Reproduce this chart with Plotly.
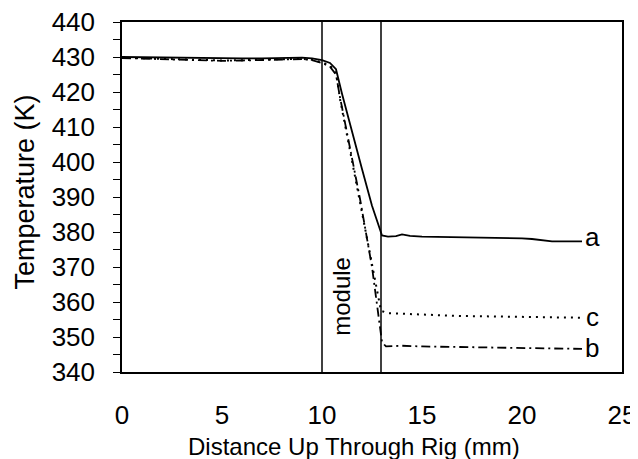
import plotly.graph_objects as go

# ---- data ----
a_x = [0, 1, 2, 3, 4, 5, 6, 7, 8, 9, 9.5, 10, 10.4, 10.7, 11.0, 11.5, 12.0, 12.5, 12.8, 13.0,
       13.3, 13.7, 14.0, 14.4, 15, 16, 17, 18, 19, 20, 20.5, 21, 21.5, 22, 23]
a_y = [430, 429.9, 429.8, 429.7, 429.6, 429.5, 429.6, 429.6, 429.8, 429.8, 429.6, 429.1, 428.3,
       426.5, 419.5, 408.5, 398, 387.5, 382, 379, 378.7, 378.8, 379.3, 378.9, 378.7, 378.6,
       378.6, 378.5, 378.4, 378.2, 378.0, 377.6, 377.3, 377.3, 377.3]

c_x = [0, 1, 2, 3, 4, 5, 6, 7, 8, 9, 9.5, 10, 10.4, 10.7, 10.9, 11.4, 11.9, 12.5, 12.8, 12.95,
       13.3, 14, 15, 16, 17, 18, 19, 20, 21, 22, 23]
c_y = [429.8, 429.6, 429.4, 429.2, 429.0, 429.0, 429.1, 429.2, 429.4, 429.5, 429.2, 428.5, 427.5,
       425.5, 418, 403, 389, 371, 362, 357.5, 356.8, 356.6, 356.3, 356.2, 356.0, 355.9, 355.8,
       355.7, 355.6, 355.5, 355.5]

b_x = [0, 1, 2, 3, 4, 5, 6, 7, 8, 9, 9.5, 10, 10.4, 10.7, 10.9, 11.4, 11.9, 12.5, 12.8, 13.0,
       13.2, 14, 15, 16, 17, 18, 19, 20, 21, 22, 23]
b_y = [429.7, 429.5, 429.3, 429.1, 429.0, 428.9, 429.0, 429.1, 429.3, 429.4, 429.1, 428.3, 427.2,
       425.0, 418.5, 404, 389.5, 370, 358, 348.5, 347.3, 347.5, 347.3, 347.2, 347.0, 346.9,
       346.8, 346.7, 346.6, 346.6, 346.6]

module_edges = [10, 12.95]
curve_labels = ["a", "b", "c"]
label_x = 23.5
label_y = [378.5, 347.0, 355.8]
x_title = "Distance Up Through Rig (mm)"
y_title = "Temperature (K)"

FONT = "Liberation Sans, Arial, sans-serif"

fig = go.Figure()
fig.add_trace(go.Scatter(x=a_x, y=a_y, mode="lines", line=dict(color="black", width=1.8)))
fig.add_trace(go.Scatter(x=c_x, y=c_y, mode="lines",
                         line=dict(color="black", width=2, dash="2px,5px")))
fig.add_trace(go.Scatter(x=b_x, y=b_y, mode="lines",
                         line=dict(color="black", width=1.8, dash="9px,4px,2px,4px")))

for xe in module_edges:
    fig.add_shape(type="line", x0=xe, x1=xe, y0=0, y1=1, xref="x", yref="paper",
                  line=dict(color="black", width=1.5))

fig.add_annotation(x=10.97, y=361.6, text="module", textangle=-90, showarrow=False,
                   font=dict(family=FONT, size=24, color="black"))

for t, yv in zip(curve_labels, label_y):
    fig.add_annotation(x=label_x, y=yv, text=t, showarrow=False,
                       font=dict(family=FONT, size=26, color="black"))

# axis titles placed as annotations (paper coords relative to plot area)
fig.add_annotation(x=0.464, y=-0.213, xref="paper", yref="paper", text=x_title,
                   showarrow=False, xanchor="center", yanchor="middle",
                   font=dict(family=FONT, size=24, color="black"))
fig.add_annotation(x=-0.194, y=0.513, xref="paper", yref="paper", text=y_title,
                   textangle=-90, showarrow=False, xanchor="center", yanchor="middle",
                   font=dict(family=FONT, size=27, color="black"))

fig.update_layout(
    width=640, height=451,
    margin=dict(l=114, r=26, t=14, b=87, autoexpand=False),
    paper_bgcolor="white", plot_bgcolor="white",
    showlegend=False,
    font=dict(family=FONT, color="black"),
)
fig.update_xaxes(range=[0, 25], dtick=5, tick0=0, showgrid=False, zeroline=False,
                 automargin=False, ticklabeloverflow="allow",
                 showline=True, linecolor="black", linewidth=1.5, mirror=True,
                 ticks="", ticklabelstandoff=19,
                 tickfont=dict(family=FONT, size=26, color="black"))
fig.update_yaxes(range=[340, 440], dtick=10, tick0=340, showgrid=False, zeroline=False,
                 automargin=False, ticklabeloverflow="allow",
                 showline=True, linecolor="black", linewidth=1.5, mirror=True,
                 ticks="outside", ticklen=7, tickcolor="black", tickwidth=1,
                 minor=dict(dtick=5, ticks="outside", ticklen=7, tickcolor="black"),
                 ticklabelstandoff=13,
                 tickfont=dict(family=FONT, size=26, color="black"))

fig.write_html("out.html")
